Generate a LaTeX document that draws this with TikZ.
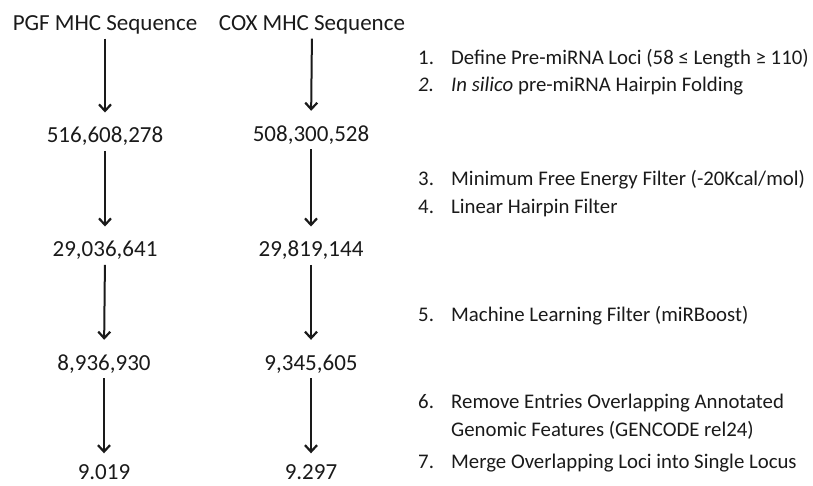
\documentclass[tikz,border=0pt]{standalone}
\usepackage{fontspec}
\setmainfont{Carlito}
\usetikzlibrary{arrows.meta}
\definecolor{ink}{HTML}{1A1A1A}
\tikzset{
  count/.style={anchor=base, inner sep=0pt, text height=15pt, text depth=0pt,
    font=\fontsize{23}{27}\selectfont, text=ink},
  step label/.style={anchor=base west, inner sep=0pt,
    font=\fontsize{20.8}{25}\selectfont, text=ink},
  flow/.style={draw=ink, line width=2pt,
    -{Straight Barb[length=6.5pt, width=12pt, line width=2.2pt]},
    shorten <=8pt, shorten >=15pt},
}
\begin{document}
\begin{tikzpicture}[x=1pt, y=-1pt]
\useasboundingbox (0,0) rectangle (813,485);

% two pipelines
\node[count] (p0) at (105,30.5) {PGF MHC Sequence};
\node[count] (p1) at (105,142.7) {516,608,278};
\node[count] (p2) at (105,256.7) {29,036,641};
\node[count] (p3) at (104,370) {8,936,930};
\node[count] (p4) at (104,479.5) {9.019};

\node[count] (c0) at (312,30.5) {COX MHC Sequence};
\node[count] (c1) at (311,141) {508,300,528};
\node[count] (c2) at (311,256.7) {29,819,144};
\node[count] (c3) at (311,370) {9,345,605};
\node[count] (c4) at (311,479.5) {9.297};

\draw[flow] (p0.south) -- (p1.north);
\draw[flow] (p1.south) -- (p2.north);
\draw[flow] (p2.south) -- (p3.north);
\draw[flow, shorten >=11pt] (p3.south) -- (p4.north);

\draw[flow] (c0.south) -- (c1.north);
\draw[flow] (c1.south) -- (c2.north);
\draw[flow] (c2.south) -- (c3.north);
\draw[flow, shorten >=11pt] (c3.south) -- (c4.north);

% filtering steps
\node[step label] (n1) at (418,64.3) {1.};
\node[step label] (s1) at (451,64.3) {Define Pre-miRNA Loci (58 ≤ Length ≥ 110)};
\node[step label] (n2) at (418,91.7) {\itshape 2.};
\node[step label] (s2) at (451,91.7) {\textit{In silico} pre-miRNA Hairpin Folding};
\node[step label] (n3) at (418,185) {3.};
\node[step label] (s3) at (451,185) {Minimum Free Energy Filter (-20Kcal/mol)};
\node[step label] (n4) at (418,213.3) {4.};
\node[step label] (s4) at (451,213.3) {Linear Hairpin Filter};
\node[step label] (n5) at (418,321.7) {5.};
\node[step label] (s5) at (451,321.7) {Machine Learning Filter (miRBoost)};
\node[step label] (n6) at (418,408.3) {6.};
\node[step label] (s6a) at (451,408.3) {Remove Entries Overlapping Annotated};
\node[step label] (s6b) at (451,436.7) {Genomic Features (GENCODE rel24)};
\node[step label] (n7) at (418,468.3) {7.};
\node[step label] (s7) at (451,468.3) {Merge Overlapping Loci into Single Locus};
\end{tikzpicture}
\end{document}
